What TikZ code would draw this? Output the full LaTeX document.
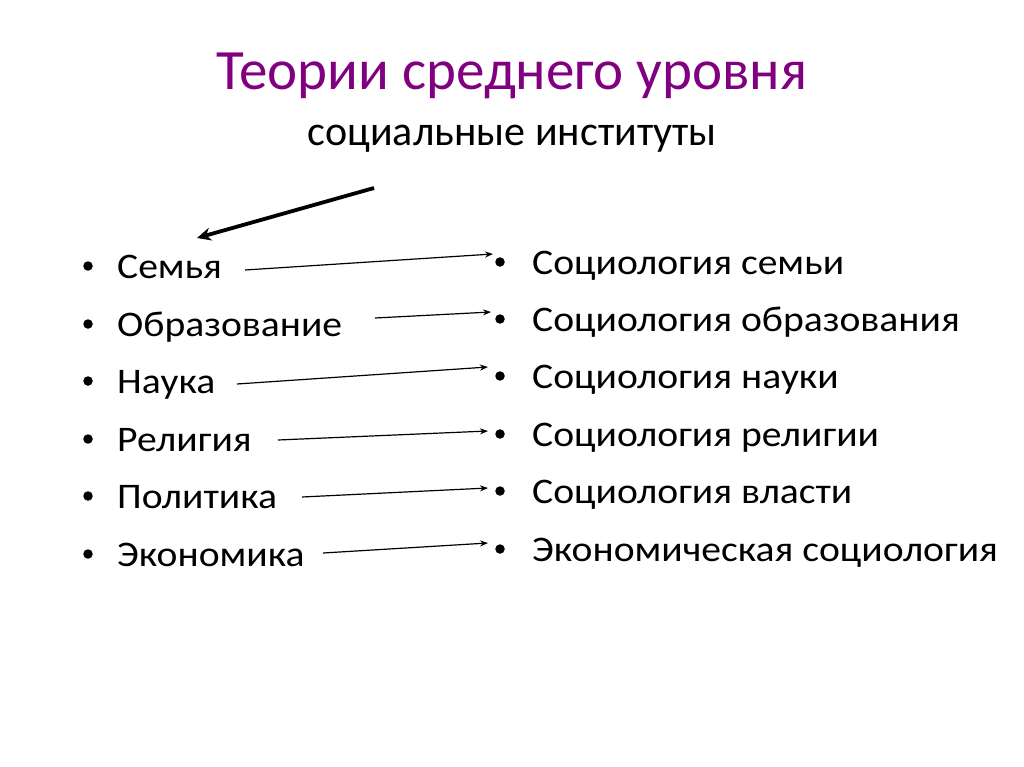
\documentclass[tikz,border=0pt]{standalone}
\usepackage{fontspec}
\setmainfont{Carlito}
\newfontfamily\wideface[FakeStretch=1.1]{Carlito}
\usetikzlibrary{arrows.meta}
\definecolor{titlepurple}{RGB}{128,0,128}
\tikzset{
  item/.style={anchor=base west, inner sep=0pt, font=\wideface\fontsize{36}{42}\selectfont},
  dot/.style={circle, fill=black, inner sep=0pt, minimum size=9.5pt},
  link/.style={-{Stealth[length=8pt,width=6pt]}, line width=1.2pt},
  bigarrow/.style={-{Stealth[length=14pt,width=13pt]}, line width=3.8pt}
}
\begin{document}
\begin{tikzpicture}[x=1pt,y=-1pt]
\useasboundingbox[fill=white] (0,0) rectangle (1024,767);
\node[anchor=base, inner sep=0pt, text=titlepurple, font=\fontsize{57}{64}\selectfont] (title) at (512,90) {Теории среднего уровня};
\node[anchor=base, inner sep=0pt, font=\fontsize{42}{50}\selectfont] (sub) at (512,146) {социальные институты};

% left column
\foreach \n/\t/\y in {l1/Семья/278, l2/Образование/336, l3/Наука/393, l4/Религия/451, l5/Политика/508, l6/Экономика/566}{
  \node[dot] (\n b) at (88,\y-12) {};
  \node[item] (\n) at (117,\y) {\t};
}
% right column
\foreach \n/\t/\y in {r1/Социология семьи/274, r2/Социология образования/331, r3/Социология науки/388, r4/Социология религии/446, r5/Социология власти/503, r6/Экономическая социология/561}{
  \node[dot] (\n b) at (500,\y-12) {};
  \node[item] (\n) at (532,\y) {\t};
}

% arrow start/end coordinates
\coordinate (s1) at (245,270); \coordinate (e1) at (493,254);
\coordinate (s2) at (375,318); \coordinate (e2) at (491,312);
\coordinate (s3) at (237,384); \coordinate (e3) at (488,367);
\coordinate (s4) at (278,440); \coordinate (e4) at (488,431);
\coordinate (s5) at (302,497); \coordinate (e5) at (488,488);
\coordinate (s6) at (323,553); \coordinate (e6) at (488,543);
\foreach \i in {1,...,6}{ \draw[link] (s\i) -- (e\i); }

\coordinate (bs) at (374,188); \coordinate (be) at (197,238);
\draw[bigarrow] (bs) -- (be);
\end{tikzpicture}
\end{document}
